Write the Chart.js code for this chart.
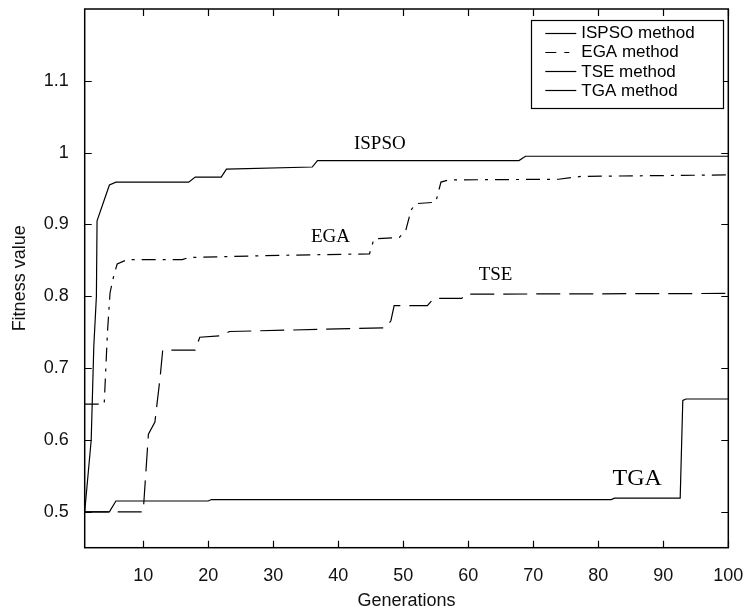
<!DOCTYPE html>
<html><head><meta charset="utf-8">
<script src="https://cdn.jsdelivr.net/npm/chart.js@4.4.0/dist/chart.umd.min.js"></script>
<style>html,body{margin:0;padding:0;background:#fff}canvas{display:block}</style>
</head><body>
<canvas id="c" width="745" height="612"></canvas>
<script>
// ---- data ----
const xTicks = [10, 20, 30, 40, 50, 60, 70, 80, 90, 100];
const xTickLabels = ['10', '20', '30', '40', '50', '60', '70', '80', '90', '100'];
const yTicks = [0.5, 0.6, 0.7, 0.8, 0.9, 1.0, 1.1];
const yTickLabels = ['0.5', '0.6', '0.7', '0.8', '0.9', '1', '1.1'];

const seriesNames = ['ISPSO method', 'EGA method', 'TSE method', 'TGA method'];
const curveNames = ['ISPSO', 'EGA', 'TSE', 'TGA'];

const ispsoGen = [1, 2, 2.4, 2.8, 2.9, 4.8, 5.8, 17, 18, 22, 22.8, 36, 36.8, 67.8, 68.8, 100];
const ispsoFit = [0.5, 0.6, 0.73, 0.8, 0.905, 0.955, 0.959, 0.959, 0.966, 0.966, 0.977, 0.980, 0.989, 0.989, 0.995, 0.995];

const egaGen = [1, 4, 4.5, 4.9, 5.5, 6, 7.5, 16, 17, 31, 44.8, 45.5, 49.4, 50.4, 51.2, 51.9, 55, 55.8, 57, 73.9, 77.4, 100];
const egaFit = [0.65, 0.65, 0.75, 0.805, 0.83, 0.845, 0.851, 0.851, 0.854, 0.857, 0.859, 0.88, 0.882, 0.892, 0.92, 0.929, 0.931, 0.959, 0.962, 0.963, 0.967, 0.969];

const tseGen = [1, 10, 10.8, 11.8, 12.6, 13, 18, 18.7, 21.8, 23.3, 41.7, 47.3, 48.1, 48.6, 53.7, 54.7, 59, 59.6, 100];
const tseFit = [0.5, 0.5, 0.608, 0.625, 0.687, 0.725, 0.725, 0.743, 0.745, 0.751, 0.755, 0.756, 0.766, 0.787, 0.787, 0.797, 0.797, 0.803, 0.804];

const tgaGen = [1, 4.8, 5.8, 20, 20.5, 82, 82.5, 92.6, 93, 93.5, 100];
const tgaFit = [0.5, 0.5, 0.515, 0.515, 0.517, 0.517, 0.519, 0.519, 0.655, 0.657, 0.657];

// ---- presentation ----
const annotations = [
  { text: curveNames[0], gen: 46.4, fit: 1.012, size: 19 },
  { text: curveNames[1], gen: 38.8, fit: 0.8826, size: 19 },
  { text: curveNames[2], gen: 64.2, fit: 0.830, size: 19 },
  { text: curveNames[3], gen: 86.0, fit: 0.546, size: 24 }
];
const dashes = [[], [14, 7, 3, 7], [24, 9], []];
const legendDashes = [[], [11, 8, 5, 8], [], []];

function pts(xs, ys) { return xs.map((x, i) => ({ x: x, y: ys[i] })); }
const allX = [ispsoGen, egaGen, tseGen, tgaGen];
const allY = [ispsoFit, egaFit, tseFit, tgaFit];

const datasets = seriesNames.map((n, i) => ({
  label: n,
  data: pts(allX[i], allY[i]),
  borderColor: '#000',
  borderWidth: 1.2,
  borderDash: dashes[i],
  pointRadius: 0,
  showLine: true,
  fill: false,
  tension: 0
}));

const SANS = '"Liberation Sans", Arial, sans-serif';
const SERIF = '"Liberation Serif", "Times New Roman", serif';

const framePlugin = {
  id: 'frame',
  afterDatasetsDraw(chart) {
    const ctx = chart.ctx;
    const a = chart.chartArea;
    const xs = chart.scales.x, ys = chart.scales.y;
    ctx.save();
    ctx.strokeStyle = '#000';
    ctx.lineWidth = 1.5;
    ctx.setLineDash([]);
    ctx.strokeRect(a.left, a.top, a.right - a.left, a.bottom - a.top);
    ctx.lineWidth = 1.2;
    const tl = 7;
    ctx.beginPath();
    xTicks.forEach(v => {
      const p = Math.round(xs.getPixelForValue(v)) + 0.5;
      ctx.moveTo(p, a.bottom); ctx.lineTo(p, a.bottom - tl);
      ctx.moveTo(p, a.top); ctx.lineTo(p, a.top + tl);
    });
    yTicks.forEach(v => {
      const p = Math.round(ys.getPixelForValue(v)) + 0.5;
      ctx.moveTo(a.left, p); ctx.lineTo(a.left + tl, p);
      ctx.moveTo(a.right, p); ctx.lineTo(a.right - tl, p);
    });
    ctx.stroke();

    // curve annotations
    ctx.fillStyle = '#000';
    ctx.textAlign = 'center';
    ctx.textBaseline = 'middle';
    annotations.forEach(an => {
      ctx.font = an.size + 'px ' + SERIF;
      ctx.fillText(an.text, xs.getPixelForValue(an.gen), ys.getPixelForValue(an.fit));
    });

    // legend box
    const bx = a.right - 197, by = a.top + 11, bw = 192, bh = 88;
    ctx.fillStyle = '#fff';
    ctx.fillRect(bx, by, bw, bh);
    ctx.strokeStyle = '#000';
    ctx.lineWidth = 1.2;
    ctx.strokeRect(Math.round(bx) + 0.5, Math.round(by) + 0.5, bw, bh);
    ctx.font = '17px ' + SANS;
    ctx.textAlign = 'left';
    ctx.textBaseline = 'middle';
    seriesNames.forEach((n, i) => {
      const cy = by + 12.5 + i * 19.3;
      ctx.setLineDash(legendDashes[i]);
      ctx.beginPath();
      ctx.moveTo(bx + 14, Math.round(cy) + 0.5);
      ctx.lineTo(bx + 45, Math.round(cy) + 0.5);
      ctx.stroke();
      ctx.setLineDash([]);
      ctx.fillStyle = '#000';
      ctx.fillText(n, bx + 50, cy + 1);
    });
    ctx.restore();
  }
};

new Chart(document.getElementById('c'), {
  type: 'scatter',
  data: { datasets: datasets },
  options: {
    responsive: false,
    animation: false,
    devicePixelRatio: 1,
    layout: { padding: { left: 0, top: 9, right: 16.7, bottom: 0 } },
    plugins: { legend: { display: false }, tooltip: { enabled: false } },
    scales: {
      x: {
        type: 'linear', min: 1, max: 100,
        afterBuildTicks: s => { s.ticks = xTicks.map(v => ({ value: v })); },
        afterFit: s => { s.height = 64.3; s.paddingLeft = 0; s.paddingRight = 0; },
        grid: { display: false, drawTicks: false },
        border: { display: false },
        ticks: {
          autoSkip: false, maxRotation: 0, padding: 18, color: '#111',
          font: { family: SANS, size: 18 },
          callback: (v, i) => xTickLabels[i]
        },
        title: { display: true, text: 'Generations', color: '#111', font: { family: SANS, size: 18 }, padding: { top: 2, bottom: 0 } }
      },
      y: {
        type: 'linear', min: 0.45, max: 1.2,
        afterBuildTicks: s => { s.ticks = yTicks.map(v => ({ value: v })); },
        afterFit: s => { s.width = 84.7; s.paddingTop = 0; s.paddingBottom = 0; },
        grid: { display: false, drawTicks: false },
        border: { display: false },
        ticks: {
          autoSkip: false, padding: 16, color: '#111',
          font: { family: SANS, size: 18 },
          callback: (v, i) => yTickLabels[i]
        },
        title: { display: true, text: 'Fitness value', color: '#111', font: { family: SANS, size: 18 }, padding: { top: 9, bottom: 0 } }
      }
    }
  },
  plugins: [framePlugin]
});
</script>
</body></html>
